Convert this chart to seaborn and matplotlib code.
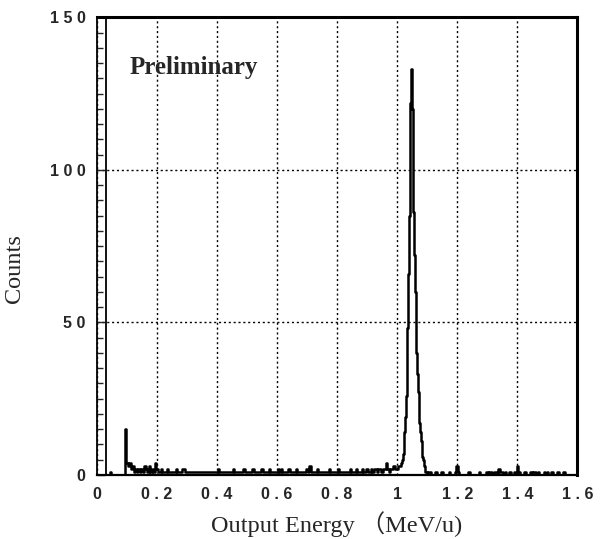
import numpy as np
import pandas as pd
import matplotlib.pyplot as plt
from matplotlib.ticker import MultipleLocator
import seaborn as sns

# Spectrum counts
# low energy part: 0.030 .. 1.005 MeV/u, 0.005 steps
low_start, low_step = 0.030, 0.005
low_counts = [
    0, 0, 0, 1, 0, 0, 0, 0, 0, 0, 0, 0, 0, 15, 4, 3, 4, 2, 3, 1,
    2, 1, 2, 1, 2, 1, 3, 2, 1, 3, 1, 2, 1, 4, 2, 1, 1, 2, 1, 1,
    1, 2, 1, 1, 1, 1, 1, 2, 1, 1, 1, 2, 2, 1, 1, 1, 1, 1, 1, 1,
    1, 1, 1, 1, 1, 1, 1, 1, 1, 1, 1, 1, 1, 1, 1, 2, 1, 1, 1, 1,
    1, 1, 1, 1, 1, 2, 1, 1, 1, 1, 1, 1, 2, 1, 1, 1, 1, 1, 2, 1,
    1, 1, 1, 1, 2, 1, 1, 1, 1, 2, 1, 1, 1, 1, 1, 2, 1, 2, 1, 1,
    1, 1, 2, 1, 1, 1, 1, 2, 1, 1, 1, 1, 1, 1, 2, 1, 3, 1, 1, 1,
    1, 2, 1, 1, 1, 1, 1, 1, 1, 2, 1, 1, 1, 1, 1, 2, 1, 1, 1, 1,
    1, 1, 1, 2, 1, 1, 1, 2, 1, 1, 1, 2, 1, 1, 2, 1, 1, 2, 1, 2,
    2, 1, 2, 2, 1, 2, 2, 4, 2, 1, 2, 2, 3, 2, 2, 3,
]

# peak region: 1.010 .. 1.100 MeV/u, 0.0025 steps
peak_start, peak_step = 1.010, 0.0025
peak_counts = [
    3, 3, 4, 5, 7, 9, 14, 19, 26, 34, 48, 66, 85, 104, 122, 133, 120, 103,
    86, 72, 60, 49, 40, 33, 27, 22, 17, 14, 11, 8, 6, 5, 3, 2, 1, 1, 0,
]

# high energy part: 1.105 .. 1.600 MeV/u, 0.005 steps
high_start, high_step = 1.105, 0.005
high_counts = [
    1, 1, 0, 0, 0, 1, 0, 0, 0, 1, 0, 0, 0, 0, 1, 0, 0, 0, 1, 3,
    1, 0, 0, 0, 0, 0, 0, 1, 0, 0, 0, 0, 0, 0, 1, 0, 0, 0, 0, 1,
    0, 1, 1, 0, 1, 1, 0, 2, 1, 1, 0, 1, 0, 0, 1, 0, 0, 1, 0, 3,
    1, 0, 0, 0, 1, 0, 0, 0, 1, 0, 1, 1, 0, 1, 0, 0, 0, 1, 0, 1,
    0, 0, 1, 0, 0, 0, 1, 0, 0, 0, 1, 0, 0, 0, 0, 0, 0, 0, 0, 0,
]

cut_energy = 0.03          # solid threshold line
x_ticks = [0, 0.2, 0.4, 0.6, 0.8, 1.0, 1.2, 1.4, 1.6]
x_ticklabels = ["0", "0 . 2", "0 . 4", "0 . 6", "0 . 8", "1", "1 . 2", "1 . 4", "1 . 6"]
y_ticks = [0, 50, 100, 150]
y_ticklabels = ["0", "5 0", "1 0 0", "1 5 0"]


def grid(start, step, n):
    return np.round(start + step * np.arange(n), 4)


df = pd.DataFrame({
    "energy": np.concatenate([grid(low_start, low_step, len(low_counts)),
                              grid(peak_start, peak_step, len(peak_counts)),
                              grid(high_start, high_step, len(high_counts))]),
    "counts": low_counts + peak_counts + high_counts,
})

sns.set_style("ticks")
plt.rcParams["font.family"] = ["Liberation Serif", "Noto Sans CJK JP"]

fig = plt.figure(figsize=(6.09, 5.39), dpi=100)
ax = fig.add_axes([0.159, 0.119, 0.789, 0.849])

sns.lineplot(data=df, x="energy", y="counts", estimator=None, sort=False,
             drawstyle="steps-mid", color="black", lw=1.8, ax=ax)
ax.axvline(cut_energy, color="black", lw=1.3)

ax.set_xlim(0, 1.6)
ax.set_ylim(0, 150)
ax.set_xticks(x_ticks)
ax.set_xticklabels(x_ticklabels, fontfamily="Liberation Sans",
                   fontweight="bold", fontsize=11.5)
ax.set_yticks(y_ticks)
ax.set_yticklabels(y_ticklabels, fontfamily="Liberation Sans",
                   fontweight="bold", fontsize=11.5)
ax.yaxis.set_minor_locator(MultipleLocator(5))
ax.tick_params(axis="x", length=0, pad=9)
ax.tick_params(axis="y", which="major", direction="in", length=6, width=1, pad=8)
ax.tick_params(axis="y", which="minor", direction="in", length=4, width=1)

ax.grid(True, which="major", color="black", lw=1.0, linestyle=(0, (1.5, 2)))
for side, w in [("top", 2.2), ("right", 2.2), ("left", 1.3), ("bottom", 1.6)]:
    ax.spines[side].set_linewidth(w)
    ax.spines[side].set_color("black")

ax.set_xlabel("Output Energy （MeV/u)", fontsize=17.5)
ax.set_ylabel("Counts", fontsize=17.5)
ax.xaxis.set_label_coords(0.5, -0.08)
ax.yaxis.set_label_coords(-0.15, 0.45)

ax.text(0.11, 133.5, "Preliminary", fontsize=18, fontweight="bold",
        ha="left", va="center")

fig.savefig("out.png", dpi=100)
